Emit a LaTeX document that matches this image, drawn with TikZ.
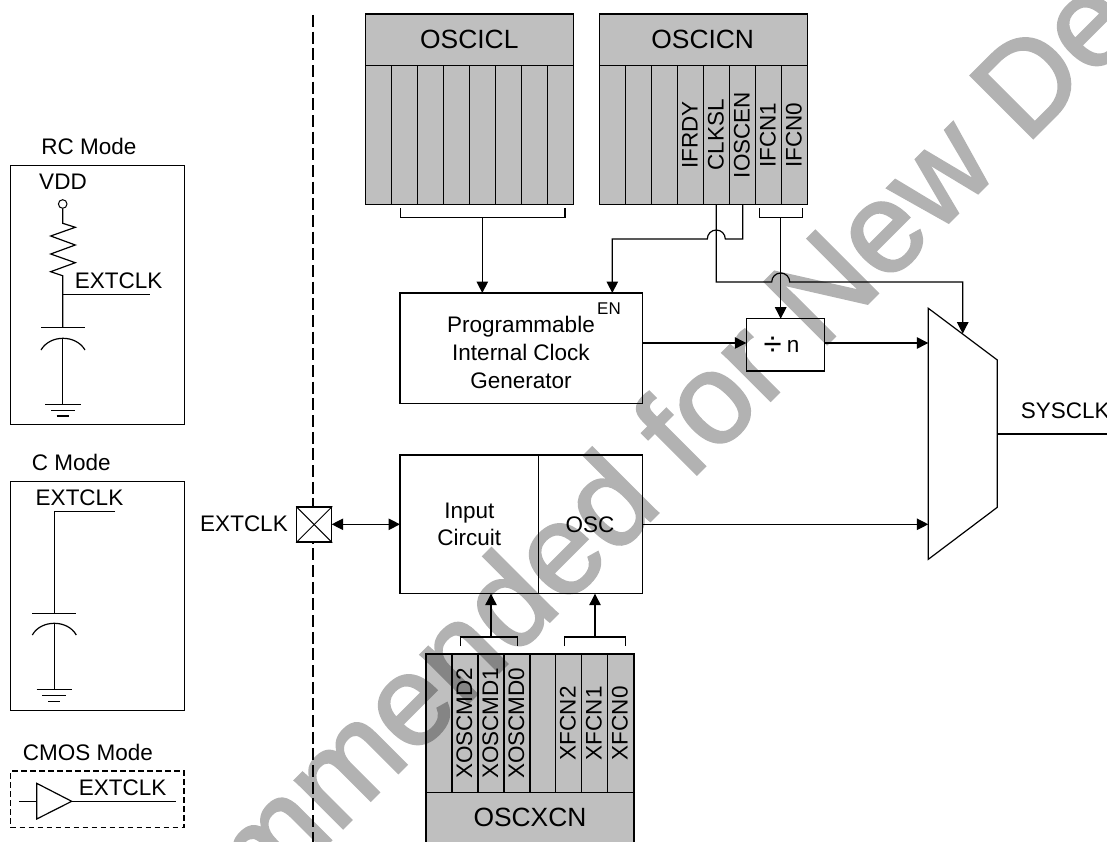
\documentclass[tikz,border=0pt]{standalone}
\usepackage{fontspec}
\setmainfont{Liberation Sans}
\newfontfamily\wmfont[FakeBold=2]{Liberation Sans}
\usetikzlibrary{arrows.meta}
\definecolor{regfill}{gray}{0.75}
\newcommand{\fsz}[1]{\fontsize{#1}{27.8}\selectfont}
\tikzset{
  x=1pt,y=-1pt,
  wire/.style={line width=1.2pt,line join=miter},
  arr/.style={wire,-{Triangle[length=11.5pt,width=11.5pt]}},
  darr/.style={wire,{Triangle[length=11.5pt,width=11.5pt]}-{Triangle[length=11.5pt,width=11.5pt]}},
  regcell/.style={draw,line width=1.2pt,fill=regfill},
  blockbox/.style={draw,line width=1.2pt,inner sep=0pt},
  modebox/.style={draw,line width=0.9pt,inner sep=0pt},
  txt/.style={inner sep=0pt,font=\fsz{22.5},anchor=base},
  bigtxt/.style={inner sep=0pt,font=\fsz{26.4},anchor=base},
  bitname/.style={inner sep=0pt,font=\fsz{22.5},rotate=90,text height=16pt,text depth=0pt,anchor=center},
  wmark/.style={inner sep=0pt,anchor=base west,rotate=45,font=\wmfont\fsz{128}},
}
\begin{document}
\begin{tikzpicture}
\useasboundingbox (0,0) rectangle (1107,842);
\clip (0,0) rectangle (1107,842);
\fill[white] (0,0) rectangle (1107,842);

% boundary
\coordinate (bt) at (313.3,15);
\coordinate (bb) at (313.3,842);
\draw[line width=2pt,dash pattern=on 12pt off 4.67pt] (bt) -- (bb);

% OSCICL
\fill[regfill] (365.7,14) rectangle (573.3,204.3);
\draw[regcell] (365.7,14) rectangle (573.3,65.7);
\draw[regcell] (365.7,65.7) rectangle (573.3,204.3);
\foreach \x in {391.7,417.7,443.7,469.7,495.7,521.7,547.5}
  \draw[wire] (\x,65.7) -- (\x,204.3);
\node[bigtxt] (oscicl) at (469.3,48.3) {OSCICL};

% OSCICN
\draw[regcell] (599.3,14) rectangle (807.3,65.7);
\draw[regcell] (599.3,65.7) rectangle (807.3,204.3);
\foreach \x in {625.3,651.3,677.3,703.3,729.3,755.3,781.3}
  \draw[wire] (\x,65.7) -- (\x,204.3);
\node[bigtxt] (oscicn) at (702.7,48.3) {OSCICN};
\node[bitname] (ifrdy) at (689.5,135) {IFRDY};
\node[bitname] (clksl) at (715.5,135) {CLKSL};
\node[bitname] (ioscen) at (741.5,135) {IOSCEN};
\node[bitname] (ifcn1) at (767.5,135) {IFCN1};
\node[bitname] (ifcn0) at (793.5,135) {IFCN0};

% Programmable block
\node[blockbox,minimum width=242.7pt,minimum height=110.3pt] (picg) at (521.35,348.15) {};
\node[txt] (pl1) at (521,332.7) {Programmable};
\node[txt] (pl2) at (521,360.7) {Internal Clock};
\node[txt] (pl3) at (521,388.3) {Generator};
\node[inner sep=0pt,font=\fsz{17},anchor=base] (en) at (609,314.2) {EN};

% OSCICL bracket to block
\coordinate (bl1) at (400.3,208.3);
\coordinate (bl2) at (400.3,217.7);
\coordinate (bl3) at (565,217.7);
\coordinate (bl4) at (565,208.3);
\coordinate (blm) at (482.3,217.7);
\coordinate (pin1) at (482.3,293);
\draw[wire] (bl1) -- (bl2) -- (bl3) -- (bl4);
\draw[arr] (blm) -- (pin1);

% IOSCEN to EN
\coordinate (io1) at (742.7,204.3);
\coordinate (io2) at (742.7,239);
\coordinate (pin2) at (612.3,293);
\draw[arr] (io1) -- (io2) -- (725.3,239) arc[start angle=0,end angle=180,radius=9pt] -- (612.3,239) -- (pin2);

% divider
\node[blockbox,minimum width=78pt,minimum height=52.3pt] (div) at (785.3,344.85) {};
\node[inner sep=0pt,anchor=base west,font=\fsz{22.5}] (divt) at (763.5,352.3) {\raisebox{-2.7pt}{\fsz{33}÷}\hspace{5pt}n};

% IFCN bracket to divider
\coordinate (bi1) at (759.3,208.3);
\coordinate (bi2) at (759.3,217.7);
\coordinate (bi3) at (802.7,217.7);
\coordinate (bi4) at (802.7,208.3);
\coordinate (bim) at (780.7,217.7);
\coordinate (dtop) at (780.7,318.7);
\draw[wire] (bi1) -- (bi2) -- (bi3) -- (bi4);
\draw[arr] (bim) -- (dtop);

% mux
\coordinate (m1) at (928.3,308.3);
\coordinate (m2) at (997.3,360);
\coordinate (m3) at (997.3,507.3);
\coordinate (m4) at (928.3,559.3);
\draw[wire] (m1) -- (m2) -- (m3) -- (m4) -- cycle;

% CLKSL to mux select
\coordinate (ck1) at (716.3,204.3);
\coordinate (ck2) at (716.3,282);
\coordinate (msel) at (962.7,333.6);
\draw[arr] (ck1) -- (ck2) -- (771.7,282) arc[start angle=180,end angle=0,radius=9pt] -- (962.7,282) -- (msel);

% clock paths
\coordinate (p1) at (642.7,343);
\coordinate (d1) at (746.3,343);
\coordinate (d2) at (824.3,343);
\coordinate (mi1) at (928.3,343);
\draw[arr] (p1) -- (d1);
\draw[arr] (d2) -- (mi1);

% input circuit / OSC
\node[blockbox,minimum width=138.7pt,minimum height=138.7pt] (ic) at (469.35,524.35) {};
\node[blockbox,minimum width=104pt,minimum height=138.7pt] (osc) at (590.7,524.35) {};
\node[txt] (ict1) at (469.3,518.3) {Input};
\node[txt] (ict2) at (469.3,545) {Circuit};
\node[txt] (osct) at (590,532.3) {OSC};

\coordinate (o1) at (642.7,524.3);
\coordinate (mi2) at (928.3,524.3);
\draw[arr] (o1) -- (mi2);

% output
\coordinate (mo) at (997.3,434);
\coordinate (sysend) at (1119,434);
\draw[arr] (mo) -- (sysend);
\node[txt,anchor=base west] (sysclk) at (1020.7,418.3) {SYSCLK};

% pad
\node[draw,line width=1.2pt,fill=white,minimum size=35pt,inner sep=0pt] (pad) at (314.2,524.5) {};
\draw[line width=1pt] (pad.north west) -- (pad.south east);
\draw[line width=1pt] (pad.north east) -- (pad.south west);
\coordinate (pe) at (331.7,524.3);
\coordinate (ii) at (400,524.3);
\draw[darr] (pe) -- (ii);
\node[txt] (padl) at (244,531.7) {EXTCLK};

% OSCXCN
\draw[regcell] (426,654) rectangle (634,792.3);
\draw[regcell] (426,792.3) rectangle (634,850);
\foreach \x in {452,478,504,530,555.7,581.7,607.7}
  \draw[wire] (\x,654) -- (\x,792.3);
\node[bigtxt] (oscxcn) at (530,826.7) {OSCXCN};
\node[bitname] (xm2) at (464,723.3) {XOSCMD2};
\node[bitname] (xm1) at (490,723.3) {XOSCMD1};
\node[bitname] (xm0) at (516,723.3) {XOSCMD0};
\node[bitname] (xf2) at (567.7,723.3) {XFCN2};
\node[bitname] (xf1) at (593.7,723.3) {XFCN1};
\node[bitname] (xf0) at (619.7,723.3) {XFCN0};

\coordinate (xb1) at (460.7,646);
\coordinate (xb2) at (460.7,637);
\coordinate (xb3) at (517.3,637);
\coordinate (xb4) at (517.3,646);
\coordinate (xbm) at (491,637);
\coordinate (icb) at (491,593.7);
\draw[wire] (xb1) -- (xb2) -- (xb3) -- (xb4);
\draw[arr] (xbm) -- (icb);
\coordinate (xc1) at (564.7,646);
\coordinate (xc2) at (564.7,637);
\coordinate (xc3) at (625.3,637);
\coordinate (xc4) at (625.3,646);
\coordinate (xcm) at (595,637);
\coordinate (oscb) at (595,593.7);
\draw[wire] (xc1) -- (xc2) -- (xc3) -- (xc4);
\draw[arr] (xcm) -- (oscb);

% RC Mode
\node[txt] (rcl) at (89,155) {RC Mode};
\node[modebox,minimum width=173.3pt,minimum height=259.4pt] (rcb) at (97.35,295) {};
\node[txt] (vdd) at (63,189.3) {VDD};
\node[draw,circle,line width=1pt,minimum size=8.6pt,inner sep=0pt] (vc) at (62.7,204) {};
\coordinate (rj) at (62.7,294.7);
\coordinate (rp) at (62.7,327.3);
\draw[wire] (vc.south) -- (62.7,223.3) -- (75.3,227.3) -- (50.7,236) -- (75.3,245) -- (50.7,254) -- (75.3,262.7) -- (50.7,271.7) -- (62.7,275.7) -- (rp);
\coordinate (re) at (150,294.7);
\draw[wire] (rj) -- (re);
\node[txt] (rcx) at (118.7,288.7) {EXTCLK};
\draw[wire] (41,327.3) -- (85,327.3);
\draw[wire] (41,350) .. controls (50,334.4) and (76,334.4) .. (85,350);
\draw[wire] (62.7,338.3) -- (62.7,404.7);
\draw[wire] (45,404.7) -- (80.7,404.7);
\draw[wire] (51,410.3) -- (75,410.3);
\draw[wire] (56.7,416) -- (69,416);

% C Mode
\node[txt] (cl) at (71.3,470.7) {C Mode};
\node[modebox,minimum width=173.3pt,minimum height=229pt] (cb) at (97.35,595.8) {};
\node[txt] (cx) at (79.5,505.7) {EXTCLK};
\draw[wire] (115,511.3) -- (54.3,511.3) -- (54.3,613.3);
\draw[wire] (32.3,613.3) -- (76.3,613.3);
\draw[wire] (32.3,635) .. controls (41,619.4) and (67.6,619.4) .. (76.3,635);
\draw[wire] (54.3,623.3) -- (54.3,689.7);
\draw[wire] (36.7,689.7) -- (72,689.7);
\draw[wire] (42.3,695.7) -- (66,695.7);
\draw[wire] (48,701.7) -- (60,701.7);

% CMOS Mode
\node[txt] (cml) at (88,760) {CMOS Mode};
\node[modebox,dash pattern=on 5.5pt off 3.5pt,line width=1.1pt,minimum width=173.3pt,minimum height=56.3pt] (cmb) at (97.35,799.15) {};
\coordinate (t1) at (36.7,783.3);
\coordinate (t2) at (36.7,819);
\coordinate (t3) at (71.7,801.3);
\coordinate (t4) at (19,801.3);
\coordinate (t5) at (36.7,801.3);
\coordinate (t6) at (175.7,801.3);
\draw[wire] (t1) -- (t2) -- (t3) -- cycle;
\draw[wire] (t4) -- (t5);
\draw[wire] (t3) -- (t6);
\node[txt] (cmx) at (122.7,795) {EXTCLK};

% watermark
\begin{scope}[transparency group,opacity=0.3]
\node[wmark] (wm) at (-116,1287) {\phantom{Not Rec}ommended for New Des};
\end{scope}
\end{tikzpicture}
\end{document}
